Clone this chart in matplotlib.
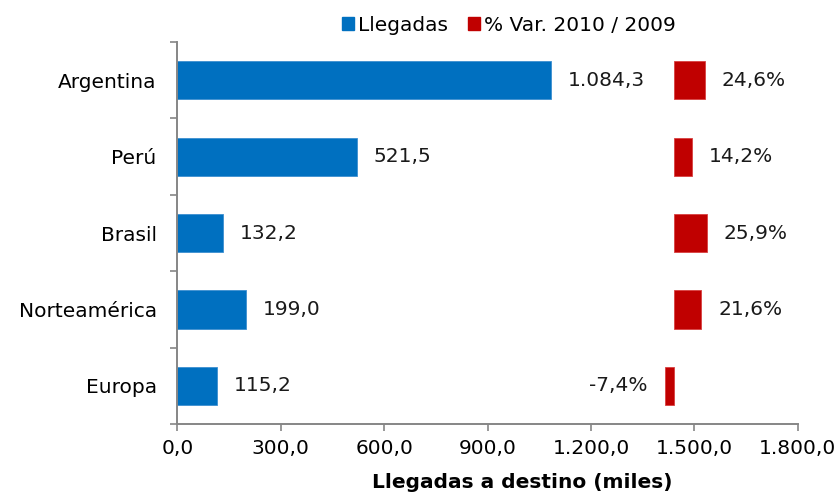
import matplotlib.pyplot as plt
from matplotlib.patches import Patch
from matplotlib.ticker import FixedLocator, FuncFormatter

categories = ['Argentina', 'Perú', 'Brasil', 'Norteamérica', 'Europa']
llegadas = [1084.3, 521.5, 132.2, 199.0, 115.2]
var_pct = [24.6, 14.2, 25.9, 21.6, -7.4]
x_ticks = [0, 300, 600, 900, 1200, 1500, 1800]

BLUE = '#0070C0'
RED = '#C00000'
GREY = '#868686'
FS = 14.5


def fmt_es(v, dec=1):
    s = f'{v:,.{dec}f}'
    return s.replace(',', 'X').replace('.', ',').replace('X', '.')


plt.rcParams['font.family'] = ['DejaVu Sans']

fig = plt.figure(figsize=(8.4, 4.95), dpi=100)
ax = fig.add_axes([0.2113, 0.1434, 0.7384, 0.7716])

y = list(range(len(categories)))
ax.barh(y, llegadas, height=0.5, color=BLUE, edgecolor='#3d8fd0', linewidth=0.6)
ax.set_ylim(len(categories) - 0.5, -0.5)
ax.set_xlim(0, 1800)

for yi, v in zip(y, llegadas):
    ax.annotate(fmt_es(v), (v, yi), xytext=(12, 0), textcoords='offset points',
                va='center', ha='left', fontsize=FS, color='#1a1a1a')

# secondary axis for the % variation bars
ax2 = ax.twiny()
ax2.set_xlim(-390.8, 97.5)
ax2.barh(y, var_pct, height=0.5, color=RED, edgecolor='#d84040', linewidth=0.6)
for yi, p in zip(y, var_pct):
    off = 12 if p >= 0 else -12
    ax2.annotate(fmt_es(p) + '%', (p, yi), xytext=(off, 0), textcoords='offset points',
                 va='center', ha='left' if p >= 0 else 'right', fontsize=FS, color='#1a1a1a')
ax2.axis('off')

ax.set_yticks(y)
ax.set_yticklabels(categories)
ax.yaxis.set_minor_locator(FixedLocator([i - 0.5 for i in range(len(categories) + 1)]))
ax.tick_params(axis='y', which='major', length=0, pad=15, labelsize=FS)
ax.tick_params(axis='y', which='minor', length=5, color=GREY, width=1.2)

ax.set_xticks(x_ticks)
ax.xaxis.set_major_formatter(FuncFormatter(lambda v, _: fmt_es(v)))
ax.tick_params(axis='x', length=5, color=GREY, width=1.2, labelsize=FS, pad=6)

for side in ['top', 'right']:
    ax.spines[side].set_visible(False)
for side in ['left', 'bottom']:
    ax.spines[side].set_color(GREY)
    ax.spines[side].set_linewidth(1.4)

ax.set_xlabel('Llegadas a destino (miles)', fontweight='bold', fontsize=FS)
ax.xaxis.set_label_coords(0.556, -0.128)

handles = [Patch(color=BLUE, label='Llegadas'), Patch(color=RED, label='% Var. 2010 / 2009')]
fig.legend(handles=handles, loc='upper center', bbox_to_anchor=(0.606, 1.005), ncol=2,
           frameon=False, fontsize=FS, handlelength=0.6, handleheight=0.6,
           handletextpad=0.2, columnspacing=1.0)

plt.savefig('out.png', dpi=100)
